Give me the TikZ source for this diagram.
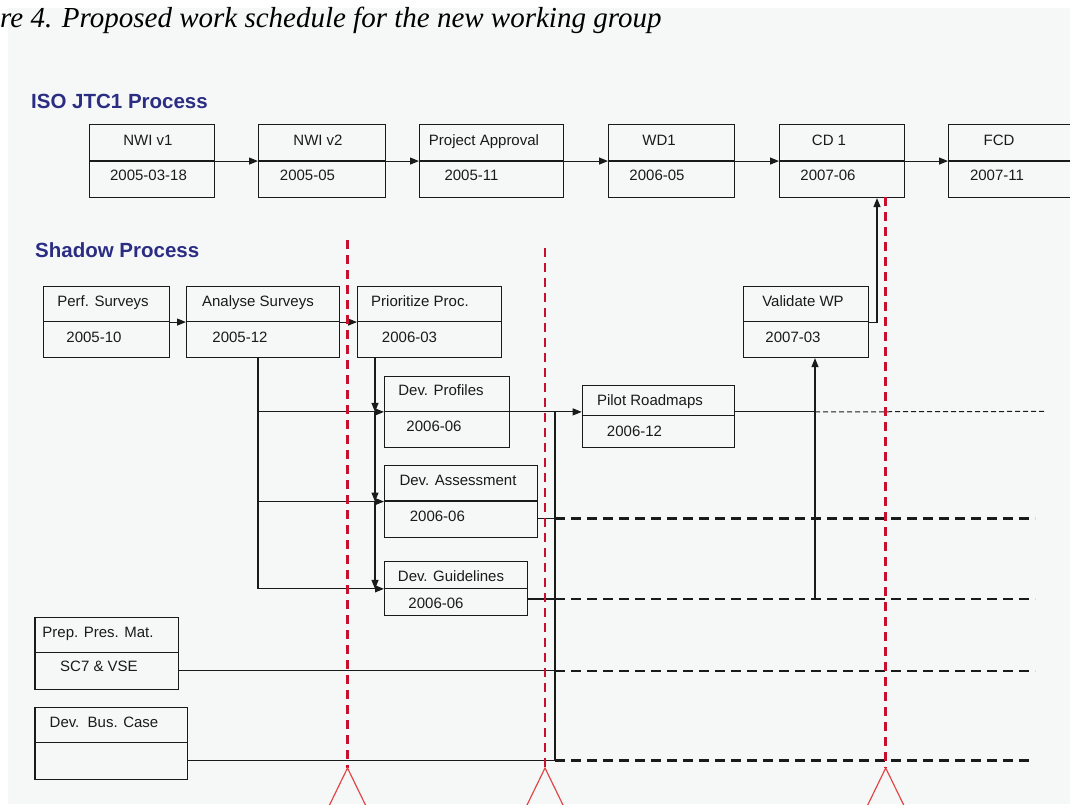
\documentclass[tikz,border=0pt]{standalone}
\usepackage{fontspec}
\setmainfont{Liberation Sans}
\newfontfamily\capfont{Liberation Serif}
\usetikzlibrary{arrows.meta}
\definecolor{bggrey}{HTML}{F6F8F8}
\definecolor{navy}{HTML}{2B2D83}
\definecolor{dred}{HTML}{C8102E}
\definecolor{tred}{HTML}{E04848}
\definecolor{ink}{HTML}{1A1A1A}
\tikzset{
 boxst/.style={draw=ink, line width=1.1pt, inner sep=0pt, anchor=north west},
 divl/.style={draw=ink, line width=1.1pt},
 lbl/.style={font=\fontsize{15}{17}\selectfont, text=ink, inner sep=0pt, anchor=base},
 head/.style={font=\fontsize{20.5}{24}\selectfont\bfseries, text=navy, anchor=base west, inner sep=0pt},
 con/.style={draw=ink, line width=1.1pt},
 arr/.style={con, -{Triangle[length=9pt,width=7pt]}},
 thickdash/.style={draw=ink, line width=2.3pt, dash pattern=on 10pt off 6pt},
 thindash/.style={draw=ink, line width=1pt, dash pattern=on 5pt off 3pt},
 mile/.style={draw=dred, line width=2.6pt, dash pattern=on 9pt off 6pt},
 tri/.style={draw=tred, line width=1.2pt},
}
\newcommand{\mkbox}[6]{%
 \node[boxst, minimum width={(#4)-(#2)}, minimum height={(#5)-(#3)}] (#1) at (#2,#3) {};
 \draw[divl] (#2,#6) -- (#4,#6);
}
\begin{document}
\begin{tikzpicture}[x=1pt,y=-1pt]
\useasboundingbox (0,0) rectangle (1070,804);
\clip (0,0) rectangle (1070,804);
\fill[white] (0,0) rectangle (1070,804);
\fill[bggrey] (7.5,7.5) rectangle (1070,804);

% caption and headings
\node[anchor=base west, inner sep=0pt, font=\capfont\itshape\fontsize{29}{33}\selectfont] (cap) at (0,27) {re 4. Proposed work schedule for the new working group};
\node[head] (hiso) at (31,108.4) {ISO JTC1 Process};
\node[head] (hsh) at (35,257.2) {Shadow Process};

% top row boxes
\mkbox{nwi1}{89}{124}{214}{197}{161}
\mkbox{nwi2}{258}{124}{385}{197}{161}
\mkbox{pa}{419}{124}{563}{197}{161}
\mkbox{wd1}{608}{124}{734}{197}{161}
\mkbox{cd1}{779}{124}{904}{197}{161}
\mkbox{fcd}{948}{124}{1090}{197}{161}

\node[lbl] (tnwi1) at (148,145) {NWI v1};
\node[lbl] (dnwi1) at (148.5,180.5) {2005-03-18};
\node[lbl] (tnwi2) at (318,145) {NWI v2};
\node[lbl] (dnwi2) at (307.5,180.5) {2005-05};
\node[lbl] (tpa) at (484,145) {Project Approval};
\node[lbl] (dpa) at (471.5,180.5) {2005-11};
\node[lbl] (twd1) at (659,145) {WD1};
\node[lbl] (dwd1) at (657,180.5) {2006-05};
\node[lbl] (tcd1) at (829,145) {CD 1};
\node[lbl] (dcd1) at (828,180.5) {2007-06};
\node[lbl] (tfcd) at (999,145) {FCD};
\node[lbl] (dfcd) at (997,180.5) {2007-11};

\draw[arr] (nwi1.east) -- (nwi2.west);
\draw[arr] (nwi2.east) -- (pa.west);
\draw[arr] (pa.east) -- (wd1.west);
\draw[arr] (wd1.east) -- (cd1.west);
\draw[arr] (cd1.east) -- (fcd.west);

% shadow boxes
\mkbox{perf}{43}{286}{169}{357}{321.5}
\mkbox{anal}{186}{286}{339}{357}{321.5}
\mkbox{prio}{357}{286}{501}{357}{321.5}
\mkbox{val}{743}{286}{868}{357}{321.5}
\mkbox{devp}{384}{375.7}{509}{447}{411.4}
\mkbox{pilot}{581.7}{384.7}{733.7}{447}{415.7}
\mkbox{deva}{384}{465.3}{536.7}{536.7}{501}
\mkbox{devg}{384}{561.3}{527.3}{615.3}{588.3}
\mkbox{prep}{34.4}{617.3}{178}{689.3}{652.7}
\mkbox{bus}{34.4}{706.7}{186.8}{779}{742.7}

\node[lbl] (tperf) at (103,306.7) {Perf. Surveys};
\node[lbl] (dperf) at (94,342.7) {2005-10};
\node[lbl] (tanal) at (258,306.7) {Analyse Surveys};
\node[lbl] (danal) at (240,342.7) {2005-12};
\node[lbl] (tprio) at (420,306.7) {Prioritize Proc.};
\node[lbl] (dprio) at (409.5,342.7) {2006-03};
\node[lbl] (tval) at (803,306.7) {Validate WP};
\node[lbl] (dval) at (793,342.7) {2007-03};
\node[lbl] (tdevp) at (441,395.7) {Dev. Profiles};
\node[lbl] (ddevp) at (434,431.7) {2006-06};
\node[lbl] (tpilot) at (650,405) {Pilot Roadmaps};
\node[lbl] (dpilot) at (634.5,436.7) {2006-12};
\node[lbl] (tdeva) at (458,485) {Dev. Assessment};
\node[lbl] (ddeva) at (437.4,521.3) {2006-06};
\node[lbl] (tdevg) at (451,581.7) {Dev. Guidelines};
\node[lbl] (ddevg) at (436,608.7) {2006-06};
\node[lbl] (tprep) at (98,637.7) {Prep. Pres. Mat.};
\node[lbl] (dprep) at (99,671.7) {SC7 \& VSE};
\node[lbl] (tbus) at (104,727.7) {Dev.\ \ Bus. Case};

% helper coordinates
\coordinate (xa) at (258,0);
\coordinate (xp) at (375,0);
\coordinate (xj) at (555,0);
\coordinate (xv) at (815,0);
\coordinate (xc) at (877,0);
\coordinate (xe) at (1035,0);
\coordinate (ya) at (0,518.5);
\coordinate (yg) at (0,599);
\coordinate (yp) at (0,670.7);
\coordinate (yb) at (0,760.5);
\coordinate (pend) at (1046,411.4);
\coordinate (bend) at (1030,760.5);

% shadow connectors
\draw[arr] (perf.east) -- (anal.west);
\draw[arr] (anal.east) -- (prio.west);
\draw[arr] (anal.south -| xa) |- (devp.west);
\draw[arr] (anal.south -| xa) |- (deva.west);
\draw[arr] (anal.south -| xa) |- (devg.west);
\draw[arr] (prio.south -| xp) -- (devp.west -| xp);
\draw[arr] (devp.west -| xp) -- (deva.west -| xp);
\draw[arr] (deva.west -| xp) -- (devg.west -| xp);
\draw[arr] (devp.east) -- (devp.east -| pilot.west);
\draw[con] (devp.east -| pilot.east) -- (devp.east -| xv);
\draw[thindash] (devp.east -| xv) -- (pend);
\draw[con] (deva.east |- ya) -- (xj |- ya);
\draw[thickdash] (xj |- ya) -- (xe |- ya);
\draw[con] (devg.east |- yg) -- (xj |- yg);
\draw[thickdash] (xj |- yg) -- (xe |- yg);
\draw[con] (prep.east |- yp) -- (xj |- yp);
\draw[thickdash] (xj |- yp) -- (xe |- yp);
\draw[con] (bus.east |- yb) -- (xj |- yb);
\draw[thickdash] (xj |- yb) -- (bend);
\draw[con] (devp.east -| xj) -- (xj |- yb);
\draw[arr] (xv |- yg) -- (val.south -| xv);
\draw[arr] (val.east) -| (cd1.south -| xc);

% milestones
\coordinate (m1t) at (347.5,240);
\coordinate (m1b) at (347.5,768);
\coordinate (m2t) at (545,248);
\coordinate (m2b) at (545,768);
\coordinate (m3t) at (885.7,197);
\coordinate (m3b) at (885.7,768);
\draw[mile] (m1t) -- (m1b);
\draw[mile] (m2t) -- (m2b);
\draw[mile] (m3t) -- (m3b);
\draw[tri] (m1b) -- ++(-21.4,44) -- ++(42.8,0) -- cycle;
\draw[tri] (m2b) -- ++(-21.4,44) -- ++(42.8,0) -- cycle;
\draw[tri] (m3b) -- ++(-21.4,44) -- ++(42.8,0) -- cycle;
\end{tikzpicture}
\end{document}
